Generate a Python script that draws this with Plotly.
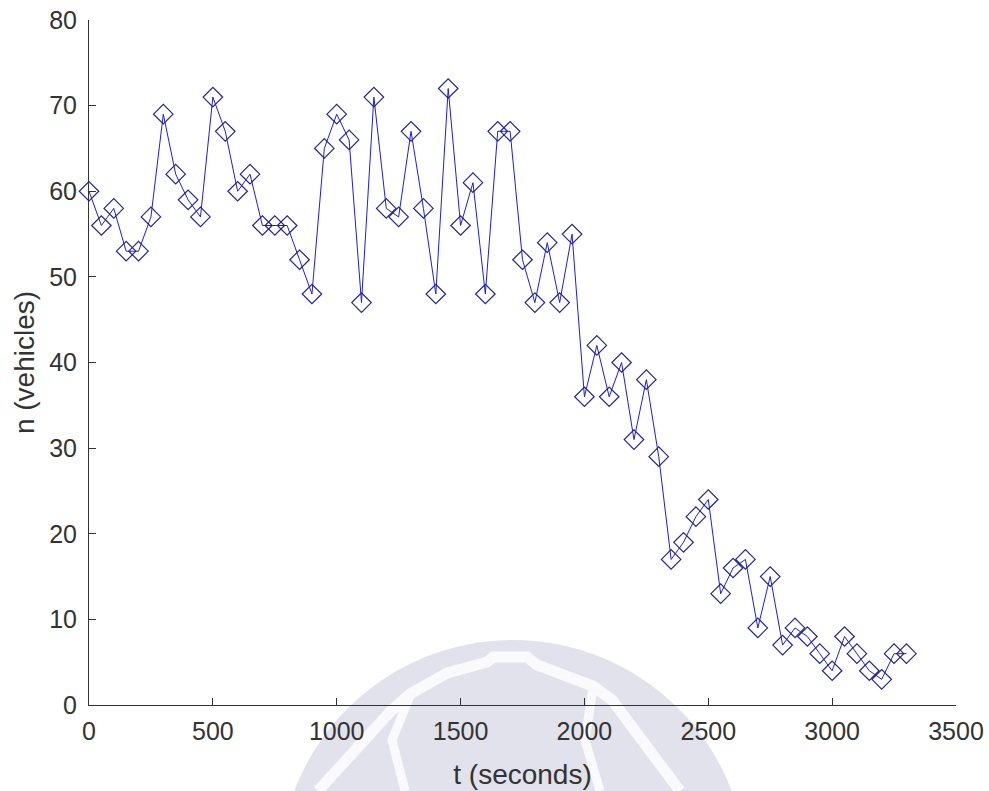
import plotly.graph_objects as go

# Sample times (s) and vehicle counts
t_seconds = list(range(0, 3301, 50))
n_vehicles = [
    60, 56, 58, 53, 53, 57, 69, 62, 59, 57,
    71, 67, 60, 62, 56, 56, 56, 52, 48, 65,
    69, 66, 47, 71, 58, 57, 67, 58, 48, 72,
    56, 61, 48, 67, 67, 52, 47, 54, 47, 55,
    36, 42, 36, 40, 31, 38, 29, 17, 19, 22,
    24, 13, 16, 17, 9, 15, 7, 9, 8, 6,
    4, 8, 6, 4, 3, 6, 6,
]
x_ticks = [0, 500, 1000, 1500, 2000, 2500, 3000, 3500]
y_ticks = [0, 10, 20, 30, 40, 50, 60, 70, 80]

W, H = 989, 791
M_L, M_R, M_T, M_B = 89, 33, 20, 86
PLOT_W = W - M_L - M_R
PLOT_H = H - M_T - M_B

axis_color = "#333333"
font_family = "Liberation Sans, Arial, sans-serif"


def px_to_paper(px, py):
    """Convert page pixel coordinates to paper coordinates."""
    return (px - M_L) / PLOT_W, (H - M_B - py) / PLOT_H


def circle_shape(cx, cy, r, **style):
    x0, y1 = px_to_paper(cx - r, cy - r)
    x1, y0 = px_to_paper(cx + r, cy + r)
    return dict(type="circle", xref="paper", yref="paper",
                x0=x0, x1=x1, y0=y0, y1=y1, layer="below", **style)


def polyline_shape(points, **style):
    parts = []
    for i, (px, py) in enumerate(points):
        x, y = px_to_paper(px, py)
        parts.append(("M" if i == 0 else "L") + f"{x:.4f},{y:.4f}")
    return dict(type="path", xref="paper", yref="paper",
                path=" ".join(parts), layer="below", **style)


fig = go.Figure(
    go.Scatter(
        x=t_seconds,
        y=n_vehicles,
        mode="lines+markers",
        line=dict(color="#1c1ce0", width=1),
        marker=dict(
            symbol="diamond-open",
            size=15,
            color="#22229a",
            line=dict(width=1.2, color="#22229a"),
        ),
        cliponaxis=False,
        showlegend=False,
    )
)

common_axis = dict(
    showline=True,
    linecolor=axis_color,
    linewidth=1,
    showgrid=False,
    zeroline=False,
    ticks="inside",
    ticklen=7,
    tickwidth=1,
    tickcolor=axis_color,
    tickfont=dict(family=font_family, size=25, color=axis_color),
    mirror=False,
    automargin=False,
)

fig.update_xaxes(
    range=[0, 3500],
    tickvals=x_ticks,
    ticklabelstandoff=4,
    title=dict(text="t (seconds)", font=dict(family=font_family, size=28, color=axis_color), standoff=20),
    **common_axis,
)
fig.update_yaxes(
    range=[0, 80],
    tickvals=y_ticks,
    ticklabelstandoff=6,
    title=dict(text="n (vehicles)", font=dict(family=font_family, size=28, color=axis_color), standoff=6),
    **common_axis,
)

# faint emblem in the lower middle of the page
emblem = [
    circle_shape(513, 874, 234, fillcolor="#e2e2ec", line=dict(width=0)),
    polyline_shape(
        [(318, 791), (390, 712), (410, 694), (447, 673), (487, 662), (493, 657),
         (527, 657), (537, 665), (593, 686), (612, 700), (680, 791)],
        line=dict(width=11, color="#fafafc"),
    ),
    polyline_shape(
        [(410, 696), (392, 740), (405, 791)],
        line=dict(width=9, color="#fafafc"),
    ),
    polyline_shape(
        [(593, 688), (585, 740), (600, 791)],
        line=dict(width=9, color="#fafafc"),
    ),
]

fig.update_layout(
    width=W,
    height=H,
    margin=dict(l=M_L, r=M_R, t=M_T, b=M_B),
    paper_bgcolor="white",
    plot_bgcolor="white",
    font=dict(family=font_family, color=axis_color),
    shapes=emblem,
)

fig.write_html("out.html")
